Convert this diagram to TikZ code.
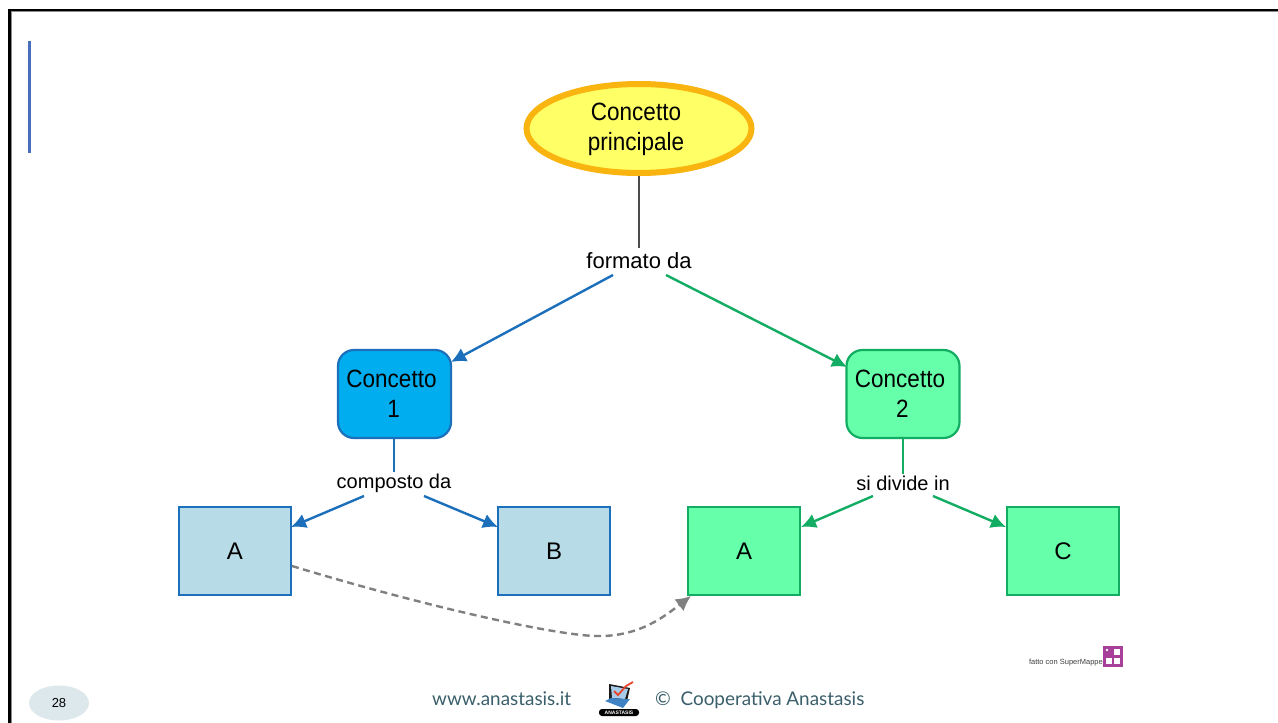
\documentclass[tikz,border=0pt]{standalone}
\usepackage{fontspec}
\setmainfont{Liberation Sans}
\newfontfamily\footfont{Lato}
\usetikzlibrary{shapes.geometric,arrows.meta}
\definecolor{bluelink}{HTML}{1B6FBB}
\definecolor{greenlink}{HTML}{12AD62}
\definecolor{lightblue}{HTML}{B7DBE7}
\definecolor{mint}{HTML}{66FFAA}
\definecolor{foot}{HTML}{3A5F6B}
\definecolor{barblue}{HTML}{4A6EBB}
\definecolor{skyfill}{HTML}{00AEEF}
\definecolor{ringorange}{HTML}{F9B410}
\definecolor{sunfill}{HTML}{FFFF66}
\definecolor{smpurple}{HTML}{A8409A}
\definecolor{pgfill}{HTML}{DCE8EC}
\definecolor{logoblue}{HTML}{3F83C4}
\definecolor{logoblueb}{HTML}{A9CBEA}
\definecolor{logored}{HTML}{E8452C}
\tikzset{
  x=1pt,y=-1pt,
  txt/.style={font=\fontsize{25}{29.5}\selectfont,align=center,text=black,xscale=0.9},
  lbl/.style={font=\fontsize{22}{25}\selectfont,fill=white,inner sep=1pt,text=black},
  lblsmall/.style={lbl,font=\fontsize{20}{24}\selectfont},
  rounded box/.style={rounded corners=16pt,minimum width=113pt,minimum height=88pt,line width=2.2pt,inner sep=0pt},
  sq/.style={minimum width=112pt,minimum height=88pt,line width=2.5pt,inner sep=0pt,font=\fontsize{24}{28}\selectfont},
  blueline/.style={bluelink,line width=2.4pt},
  greenline/.style={greenlink,line width=2.4pt},
  tip/.style={-{Latex[length=15pt,width=15pt]}},
}
\begin{document}
\begin{tikzpicture}
\useasboundingbox (0,0) rectangle (1278,723);
\fill[white] (0,0) rectangle (1278,723);
% slide frame
\draw[black,line width=2.4pt] (9.5,723) -- (9.5,10) -- (1278,10);
\fill[black!45] (10.7,11.2) rectangle (11.4,723);
\fill[black!45] (10.7,11.2) rectangle (1278,11.9);
\fill[barblue] (28,41) rectangle (31,153);
% nodes
\node[ellipse,draw=ringorange,fill=sunfill,line width=6pt,minimum width=225pt,minimum height=89pt,inner sep=0pt] (main) at (639,128.5) {};
\node[txt] (maint) at (636,129.5) {Concetto\\principale};
\node[lbl] (l0) at (639,261) {formato da};
\node[rounded box,draw=bluelink,fill=skyfill] (c1) at (394.5,394) {};
\node[txt] (c1t) at (391.5,394) {Concetto\\\hspace{5pt}1};
\node[rounded box,draw=greenlink,fill=mint] (c2) at (903,394) {};
\node[txt] (c2t) at (900,394) {Concetto\\\hspace{5pt}2};
\node[lblsmall] (l1) at (394,483) {composto da};
\node[lblsmall] (l2) at (903,483) {si divide in};
\node[sq,draw=bluelink,fill=lightblue] (a1) at (235,551) {A};
\node[sq,draw=bluelink,fill=lightblue] (b) at (554,551) {B};
\node[sq,draw=greenlink,fill=mint] (a2) at (744,551) {A};
\node[sq,draw=greenlink,fill=mint] (cc) at (1063,551) {C};
% connectors
\coordinate (j0) at (639,248);
\draw[black!70,line width=1.2pt] (main.south) -- (j0);
\coordinate (s1) at (613,275);
\coordinate (s2) at (666,275);
\coordinate (s3) at (364,496);
\coordinate (s4) at (424,496);
\coordinate (s5) at (873,496);
\coordinate (s6) at (933,496);
\coordinate (e1) at (451,362);
\coordinate (e2) at (847,367);
\coordinate (t3) at (291,527);
\coordinate (t4) at (498,527);
\coordinate (t5) at (801,527);
\coordinate (t6) at (1006,527);
\draw[blueline,tip] (s1) -- (e1);
\draw[greenline,tip] (s2) -- (e2);
\draw[blueline] (c1.south -| l1) -- (l1.north);
\draw[greenline] (c2.south) -- (l2.north);
\draw[blueline,tip] (s3) -- (t3);
\draw[blueline,tip] (s4) -- (t4);
\draw[greenline,tip] (s5) -- (t5);
\draw[greenline,tip] (s6) -- (t6);
\coordinate (d1) at (292,566);
\coordinate (d2) at (691,596);
\draw[gray,line width=2.4pt,dash pattern=on 7pt off 4.5pt,tip] (d1) .. controls (420,605) and (560,637) .. (600,636) .. controls (640,636) and (665,616) .. (d2);
% SuperMappe mark
\node[anchor=east,inner sep=0pt,font=\fontsize{7.5}{9}\selectfont,text=black!75] (sm) at (1103,663) {fatto con SuperMappe};
\fill[smpurple] (1103,646) rectangle (1123,667);
\fill[white] (1114,649) rectangle (1120,655);
\fill[white] (1106,658) rectangle (1112,664);
\fill[white] (1114,658) rectangle (1120,664);
\fill[white] (1107,650) circle (1.3pt);
% page number
\node[ellipse,fill=pgfill,minimum width=60pt,minimum height=35pt,inner sep=0pt,font=\fontsize{13}{15}\selectfont] (pg) at (59,703) {28};
% footer
\node[anchor=base west,inner sep=0pt,text=foot,font=\footfont\fontsize{18.9}{20}\selectfont] (f1) at (432,705) {www.anastasis.it};
\node[anchor=base west,inner sep=0pt,text=foot,font=\footfont\fontsize{18.9}{20}\selectfont] (f2) at (655,705) {©\ \ Cooperativa Anastasis};
% Anastasis logo
\fill[black!90] (609,684) -- (630,688) -- (627,701) -- (609,701) -- cycle;
\fill[logoblueb] (611,686) -- (628,689) -- (625,699) -- (612,698) -- cycle;
\fill[logoblue] (605,701) -- (611,698) -- (626,699) -- (630,699) -- (623,708) -- cycle;
\draw[logored,line width=1.8pt] (614,691) -- (618,695) -- (626,686) -- (633,682);
\node[fill=black,rounded corners=3pt,text=white,inner sep=0.6pt,minimum width=40pt,minimum height=7pt,font=\fontsize{5}{5}\selectfont\bfseries] (lg) at (619,712.5) {ANASTASIS};
\end{tikzpicture}
\end{document}
